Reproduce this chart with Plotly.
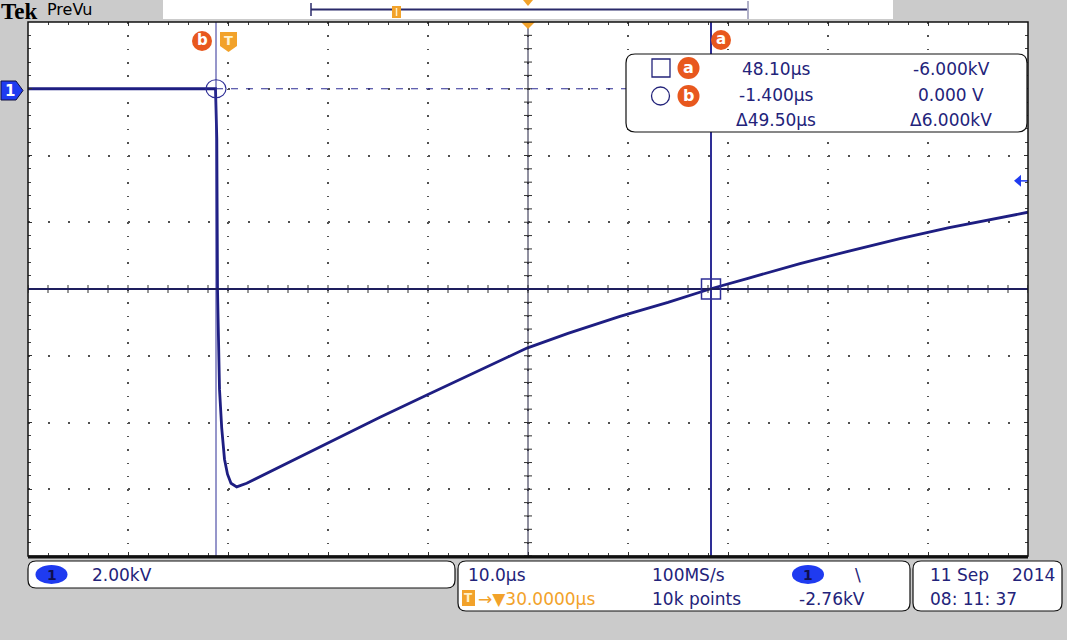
import numpy as np
import plotly.graph_objects as go

time_us = [-20.2, -10.0, -1.45, -1.32, -1.25, -1.05, -0.83, -0.55, -0.25, 0.10, 0.67,
           1.67, 3.67, 5.67, 8.33, 9.67, 12.33, 15.0, 19.8, 24.8, 29.7,
           33.8, 39.0, 43.8, 48.0, 51.8, 57.0, 61.8, 67.0, 71.8, 75.8, 79.8]
volts_kv = [0.0, 0.0, 0.0, -1.5, -6.0, -9.0, -10.16, -11.10, -11.55, -11.82, -11.93,
            -11.82, -11.52, -11.22, -10.83, -10.63, -10.23, -9.84, -9.16, -8.45, -7.77,
            -7.33, -6.82, -6.40, -6.00, -5.68, -5.24, -4.87, -4.49, -4.17, -3.93, -3.70]

cursor_a = (48.10, -6.000)    # (µs, kV)
cursor_b = (-1.400, 0.000)
trigger_level_kv = -2.76
x_range = [-20.2, 79.8]       # 10 µs/div
y_range = [-14.0, 2.0]        # 2 kV/div

readout_rows = [("48.10µs", "-6.000kV"), ("-1.400µs", "0.000 V"), ("Δ49.50µs", "Δ6.000kV")]

# ---------------- geometry helpers ----------------
W, H = 1067, 640
L, R, T, B = 28, 1028, 22, 556


def px(x):
    return (x - L) / (R - L)


def py(y):
    return (B - y) / (B - T)


def pt(x, y):
    return f"{px(x):.5f},{py(y):.5f}"


def rrect(x0, y0, x1, y1, r):
    return (f"M{pt(x0 + r, y0)} L{pt(x1 - r, y0)} Q{pt(x1, y0)} {pt(x1, y0 + r)} "
            f"L{pt(x1, y1 - r)} Q{pt(x1, y1)} {pt(x1 - r, y1)} L{pt(x0 + r, y1)} "
            f"Q{pt(x0, y1)} {pt(x0, y1 - r)} L{pt(x0, y0 + r)} Q{pt(x0, y0)} {pt(x0 + r, y0)} Z")


def poly(points):
    return "M" + " L".join(pt(x, y) for x, y in points) + " Z"


NAVY = "#23237a"
TRACE = "#1e1e82"
CURSOR = "#2e2e96"
ORANGE = "#e8581e"
AMBER = "#f2a22a"
BLUE = "#1f3bf0"
FONT = "DejaVu Sans"

shapes = []
annotations = []


def line(x0, y0, x1, y1, color, width=1, dash="solid", xref="paper", yref="paper"):
    shapes.append(dict(type="line", xref=xref, yref=yref, x0=x0, y0=y0, x1=x1, y1=y1,
                       line=dict(color=color, width=width, dash=dash)))


def path(d, fill, color="rgba(0,0,0,0)", width=0):
    shapes.append(dict(type="path", xref="paper", yref="paper", path=d,
                       fillcolor=fill, line=dict(color=color, width=width)))


def circle(cx, cy, rx, ry, fill, color="rgba(0,0,0,0)", width=0):
    shapes.append(dict(type="circle", xref="paper", yref="paper",
                       x0=px(cx - rx), x1=px(cx + rx), y0=py(cy + ry), y1=py(cy - ry),
                       fillcolor=fill, line=dict(color=color, width=width)))


def text(x, y, s, size=16, color=NAVY, xanchor="left", family=FONT):
    annotations.append(dict(x=px(x), y=py(y), xref="paper", yref="paper", text=s,
                            showarrow=False, xanchor=xanchor, yanchor="middle",
                            font=dict(family=family, size=size, color=color)))


# ---------------- graticule centre cross with ticks ----------------
line(0.5, 0, 0.5, 1, "#202040", 1)
line(0, 0.5, 1, 0.5, "#202040", 1)
for t in np.arange(x_range[0], x_range[1] + 1e-9, 2.0):
    line(t, 0.5 - 4 / 534, t, 0.5 + 4 / 534, "#303030", 1, xref="x", yref="paper")
for v in np.arange(y_range[0], y_range[1] + 1e-9, 0.4):
    line(0.5 - 4 / 1000, v, 0.5 + 4 / 1000, v, "#303030", 1, xref="paper", yref="y")

# ---------------- cursors ----------------
line(cursor_b[0], 0, cursor_b[0], 1, CURSOR, 1, xref="x", yref="paper")
line(cursor_b[0], cursor_b[1], x_range[1], cursor_b[1], CURSOR, 1, dash="7px,8px", xref="x", yref="y")
line(cursor_a[0], 0, cursor_a[0], 1, CURSOR, 2, xref="x", yref="paper")
line(x_range[0], cursor_a[1], x_range[1], cursor_a[1], "#1e1e5e", 2, xref="x", yref="y")
shapes.append(dict(type="circle", xref="x", yref="y", xsizemode="pixel", ysizemode="pixel",
                   xanchor=cursor_b[0], yanchor=cursor_b[1], x0=-10, x1=10, y0=-9, y1=9,
                   line=dict(color=CURSOR, width=1.2)))
shapes.append(dict(type="rect", xref="x", yref="y", xsizemode="pixel", ysizemode="pixel",
                   xanchor=cursor_a[0], yanchor=cursor_a[1], x0=-9.5, x1=9.5, y0=-10, y1=10,
                   line=dict(color=CURSOR, width=1.5)))

# ---------------- readout box ----------------
path(rrect(626, 54, 1027, 132, 9), "white", "#101010", 1.2)
shapes.append(dict(type="rect", xref="paper", yref="paper", x0=px(652), x1=px(670),
                   y0=py(77), y1=py(59), line=dict(color=NAVY, width=1.3)))
circle(660.5, 96, 9, 9, "rgba(0,0,0,0)", NAVY, 1.3)
for cy, letter in [(68, "a"), (96, "b")]:
    circle(688.5, cy, 11, 11, ORANGE)
    text(688.5, cy - 1, f"<b>{letter}</b>", 16, "white", "center")
rows_y = [69, 95, 120]
for (tv, vv), yy in zip(readout_rows, rows_y):
    text(776, yy, tv, 17, NAVY, "center")
    text(951, yy, vv, 17, NAVY, "center")

# ---------------- orange cursor / trigger badges ----------------
circle(202, 41, 10, 10, ORANGE)
text(202, 40, "<b>b</b>", 15, "white", "center")
circle(721, 40, 10, 10, ORANGE)
text(721, 39, "<b>a</b>", 15, "white", "center")
path(poly([(220, 32), (237, 32), (237, 46), (228.5, 52), (220, 46)]), AMBER)
text(228.5, 41, "<b>T</b>", 13, "#fff3d0", "center")
path(poly([(521, 22), (535, 22), (528, 29)]), AMBER)

# ---------------- channel marker and trigger level ----------------
path(poly([(1, 81), (16, 81), (23, 90.5), (16, 100), (1, 100)]), BLUE, "#101040", 1)
text(10, 90.5, "<b>1</b>", 15, "white", "center")
shapes.append(dict(type="path", xref="paper", yref="y", ysizemode="pixel", yanchor=trigger_level_kv,
                   path=f"M{px(1014):.5f},0 L{px(1021):.5f},6 L{px(1021):.5f},-6 Z",
                   fillcolor=BLUE, line=dict(color=BLUE, width=0)))
line(px(1020), trigger_level_kv, 1, trigger_level_kv, BLUE, 1.5, xref="paper", yref="y")

# ---------------- plot frame ----------------
shapes.append(dict(type="rect", xref="paper", yref="paper", x0=0, x1=1, y0=0, y1=1,
                   line=dict(color="#101010", width=1.5)))
line(0, py(557), 1, py(557), "#101010", 3)

# ---------------- top bar ----------------
shapes.append(dict(type="rect", xref="paper", yref="paper", x0=px(163), x1=px(893),
                   y0=py(19), y1=py(0), fillcolor="white", line=dict(width=0)))
line(px(311), py(9.5), px(748), py(9.5), "#2a2a6a", 2)
line(px(311), py(3), px(311), py(16), "#2a2a6a", 1.5)
line(px(748), py(1), px(748), py(19), "#b0b0c8", 2)
path(poly([(392, 6), (401, 6), (401, 18), (392, 18)]), AMBER)
line(px(396.5), py(8), px(396.5), py(16), "#fff0c8", 1.5)
path(poly([(523, 0), (533, 0), (528, 6)]), AMBER)
text(-1, 11, "<b>Tek</b>", 23, "black", "left", "Liberation Serif")
text(45, 10, "PreVu", 16, "black", "left", FONT)

# ---------------- bottom status boxes ----------------
path(rrect(28, 561, 455, 588, 8), "white", "#101010", 1.2)
path(rrect(458, 561, 910, 611, 8), "white", "#101010", 1.2)
path(rrect(913, 561, 1062, 611, 8), "white", "#101010", 1.2)
circle(51.5, 574.5, 16, 9.5, BLUE)
text(51.5, 574.5, "<b>1</b>", 14, "#101050", "center")
text(90, 575, "2.00kV", 17)
text(466, 575, "10.0µs", 17)
text(650, 575, "100MS/s", 17)
circle(808, 574.5, 16, 9.5, BLUE)
text(808, 574.5, "<b>1</b>", 14, "#101050", "center")
text(853, 575, "\\", 17)
path(poly([(462, 590), (475, 590), (475, 606), (462, 606)]), AMBER)
text(468.5, 598, "<b>T</b>", 12, "#fff0c8", "center")
text(476, 599, "→▼30.0000µs", 17, AMBER)
text(650, 599, "10k points", 17)
text(797, 599, "-2.76kV", 17)
text(928, 575, "11 Sep", 17)
text(1057, 575, "2014", 17, NAVY, "right")
text(928, 599, "08: 11: 37", 17)

# ---------------- figure ----------------
fig = go.Figure()
fig.add_trace(go.Scatter(x=time_us, y=volts_kv, mode="lines",
                         line=dict(color=TRACE, width=2.8, shape="linear"),
                         hoverinfo="skip"))

fig.update_layout(
    width=W, height=H, autosize=False,
    margin=dict(l=L, r=W - R, t=T, b=H - B, pad=0),
    paper_bgcolor="#cbcbcb", plot_bgcolor="white",
    showlegend=False, hovermode=False,
    shapes=shapes, annotations=annotations,
    xaxis=dict(range=x_range, tick0=x_range[0], dtick=10, showgrid=True,
               gridcolor="#505050", gridwidth=1.5, griddash="1.5px,11.85px",
               zeroline=False, showticklabels=False, showline=False,
               ticks="inside", ticklen=4, tickcolor="#303030", mirror="allticks",
               minor=dict(tick0=x_range[0], dtick=2, ticks="inside", ticklen=3,
                          tickcolor="#404040", showgrid=False)),
    yaxis=dict(range=y_range, tick0=y_range[0], dtick=2, showgrid=True,
               gridcolor="#505050", gridwidth=1.5, griddash="1.5px,18.5px",
               zeroline=False, showticklabels=False, showline=False,
               ticks="inside", ticklen=4, tickcolor="#303030", mirror="allticks",
               minor=dict(tick0=y_range[0], dtick=0.4, ticks="inside", ticklen=3,
                          tickcolor="#404040", showgrid=False)),
)

fig.write_html(
    "out.html",
    config={"displayModeBar": False},
    post_script="document.body.style.margin='0';document.body.style.overflow='hidden';"
                "document.body.style.background='#cbcbcb';",
)
